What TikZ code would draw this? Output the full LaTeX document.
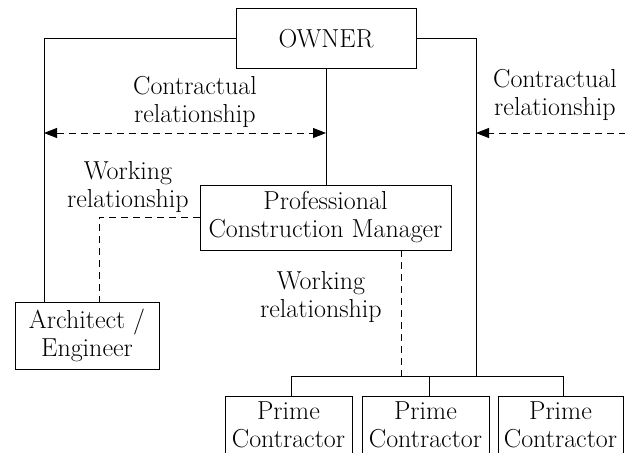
\documentclass[tikz,border=0pt]{standalone}
\usetikzlibrary{arrows.meta}
\newcommand\dgfont{\fontsize{26}{28}\selectfont}
\begin{document}
\begin{tikzpicture}[x=1pt,y=-1pt,
  box/.style={draw,line width=0.9pt,inner sep=0pt,align=center,font=\dgfont},
  lbl/.style={inner sep=0pt,align=center,font=\dgfont},
  ln/.style={line width=0.9pt},
  dsh/.style={line width=0.9pt,dash pattern=on 7pt off 5pt},
  tipr/.style={-{Triangle[length=13pt,width=10pt]}},
  tipb/.style={{Triangle[length=13pt,width=10pt]}-{Triangle[length=13pt,width=10pt]}}]
\useasboundingbox (0,0) rectangle (625,453);
\clip (0,0) rectangle (625,453);
% boxes
\node[box,minimum width=180pt,minimum height=60pt] (owner) at (326,38.5) {OWNER};
\node[box,minimum width=251pt,minimum height=65pt] (pcm) at (325.5,217.5) {Professional\\Construction Manager};
\node[box,minimum width=144pt,minimum height=67pt] (ae) at (87,335.5) {Architect /\\Engineer};
\node[box,minimum width=127pt,minimum height=74pt] (p1) at (288.5,433) {};
\node[box,minimum width=127pt,minimum height=74pt] (p2) at (425.5,433) {};
\node[box,minimum width=125pt,minimum height=74pt] (p3) at (560.5,433) {};
\node[lbl] (t1) at (288.5,424.5) {Prime\\Contractor};
\node[lbl] (t2) at (425.5,424.5) {Prime\\Contractor};
\node[lbl] (t3) at (560.5,424.5) {Prime\\Contractor};
% labels
\node[lbl] (cl) at (195,102) {Contractual\\relationship};
\node[lbl] (cr) at (555,95) {Contractual\\relationship};
\node[lbl] (wl) at (128,187) {Working\\relationship};
\node[lbl] (wr) at (321,297) {Working\\relationship};
% coordinates
\coordinate (lx) at (44,38.5);
\coordinate (rx) at (476,38.5);
\coordinate (bus) at (476,376);
\coordinate (al) at (44,133);
\coordinate (ar) at (326,133);
\coordinate (rr) at (476,133);
\coordinate (re) at (626,133);
\coordinate (b1) at (291,376);
\coordinate (b2) at (429,376);
\coordinate (b3) at (563,376);
% solid connectors
\draw[ln] (owner.west) -- (lx) -- (lx |- ae.north);
\draw[ln] (owner.east) -- (rx) -- (bus);
\draw[ln] (owner.south) -- (owner.south |- pcm.north);
\draw[ln] (b1) -- (b3);
\draw[ln] (b1) -- (b1 |- p1.north);
\draw[ln] (b2) -- (b2 |- p2.north);
\draw[ln] (b3) -- (b3 |- p3.north);
% dashed
\draw[dsh,tipb] (al) -- (ar);
\draw[dsh,tipr] (re) -- (rr);
\draw[dsh] (pcm.west |- 0,217) -- (99,217) -- (99,302);
\draw[dsh] (401,250) -- (401,376);
\end{tikzpicture}
\end{document}
